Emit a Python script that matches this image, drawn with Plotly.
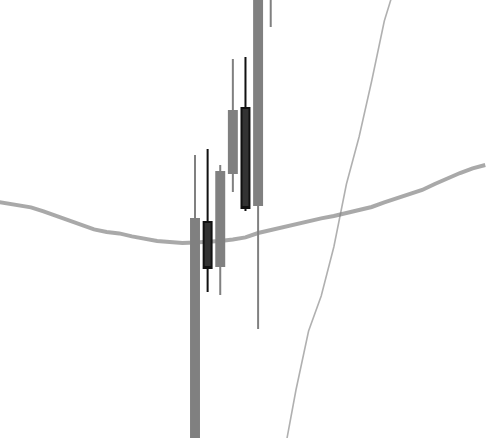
import plotly.graph_objects as go

# candle data (index, OHLC)
candle_x = [20, 21, 22, 23, 24, 25, 26]
candle_open = [98.4, 110.8, 108.6, 113.25, 116.5, 111.65, 122.4]
candle_high = [114.15, 114.45, 113.65, 118.95, 119.05, 124.4, 125.9]
candle_low = [97.9, 107.3, 107.15, 112.3, 111.35, 105.45, 120.55]
candle_close = [110.95, 108.5, 113.3, 116.35, 111.5, 123.4, 124.9]

# smooth average line
avg_x = list(range(4, 44))
avg_y = [111.85, 111.75, 111.65, 111.53, 111.33, 111.10, 110.88, 110.63, 110.43, 110.30,
         110.23, 110.08, 109.95, 109.85, 109.80, 109.75, 109.78, 109.80, 109.85, 109.93,
         110.03, 110.25, 110.40, 110.58, 110.73, 110.85, 110.98, 111.10, 111.25, 111.38,
         111.55, 111.78, 111.98, 112.18, 112.40, 112.70, 112.98, 113.25, 113.48, 113.65]

# steep thin line
steep_x = [27, 28, 29, 30, 31, 32, 33, 34, 35, 36]
steep_y = [99.0, 102.4, 105.35, 107.1, 109.55, 112.7, 115.05, 117.85, 120.85, 122.9]

x_range = [4.548, 43.059]
y_range = [100.0, 121.9]

fig = go.Figure()
fig.add_trace(go.Scatter(x=avg_x, y=avg_y, mode="lines",
                         line=dict(color="rgba(128,128,128,0.68)", width=4),
                         hoverinfo="skip", showlegend=False))
fig.add_trace(go.Scatter(x=steep_x, y=steep_y, mode="lines",
                         line=dict(color="rgba(128,128,128,0.62)", width=1.6),
                         hoverinfo="skip", showlegend=False))
fig.add_trace(go.Candlestick(x=candle_x, open=candle_open, high=candle_high,
                             low=candle_low, close=candle_close,
                             increasing=dict(line=dict(color="#808080", width=2), fillcolor="#808080"),
                             decreasing=dict(line=dict(color="#111111", width=2), fillcolor="#333333"),
                             xaxis="x2", yaxis="y2", showlegend=False))

axis_common = dict(visible=False, showgrid=False, zeroline=False, fixedrange=True)
fig.update_layout(
    width=486, height=438,
    margin=dict(l=0, r=0, t=0, b=0),
    paper_bgcolor="white", plot_bgcolor="white",
    showlegend=False,
    boxgap=0.1,
    xaxis=dict(range=x_range, rangeslider=dict(visible=False), **axis_common),
    yaxis=dict(range=y_range, **axis_common),
    xaxis2=dict(range=x_range, overlaying="x", rangeslider=dict(visible=False), **axis_common),
    yaxis2=dict(range=y_range, overlaying="y", **axis_common),
)

fig.write_html("out.html", config={"displayModeBar": False})
